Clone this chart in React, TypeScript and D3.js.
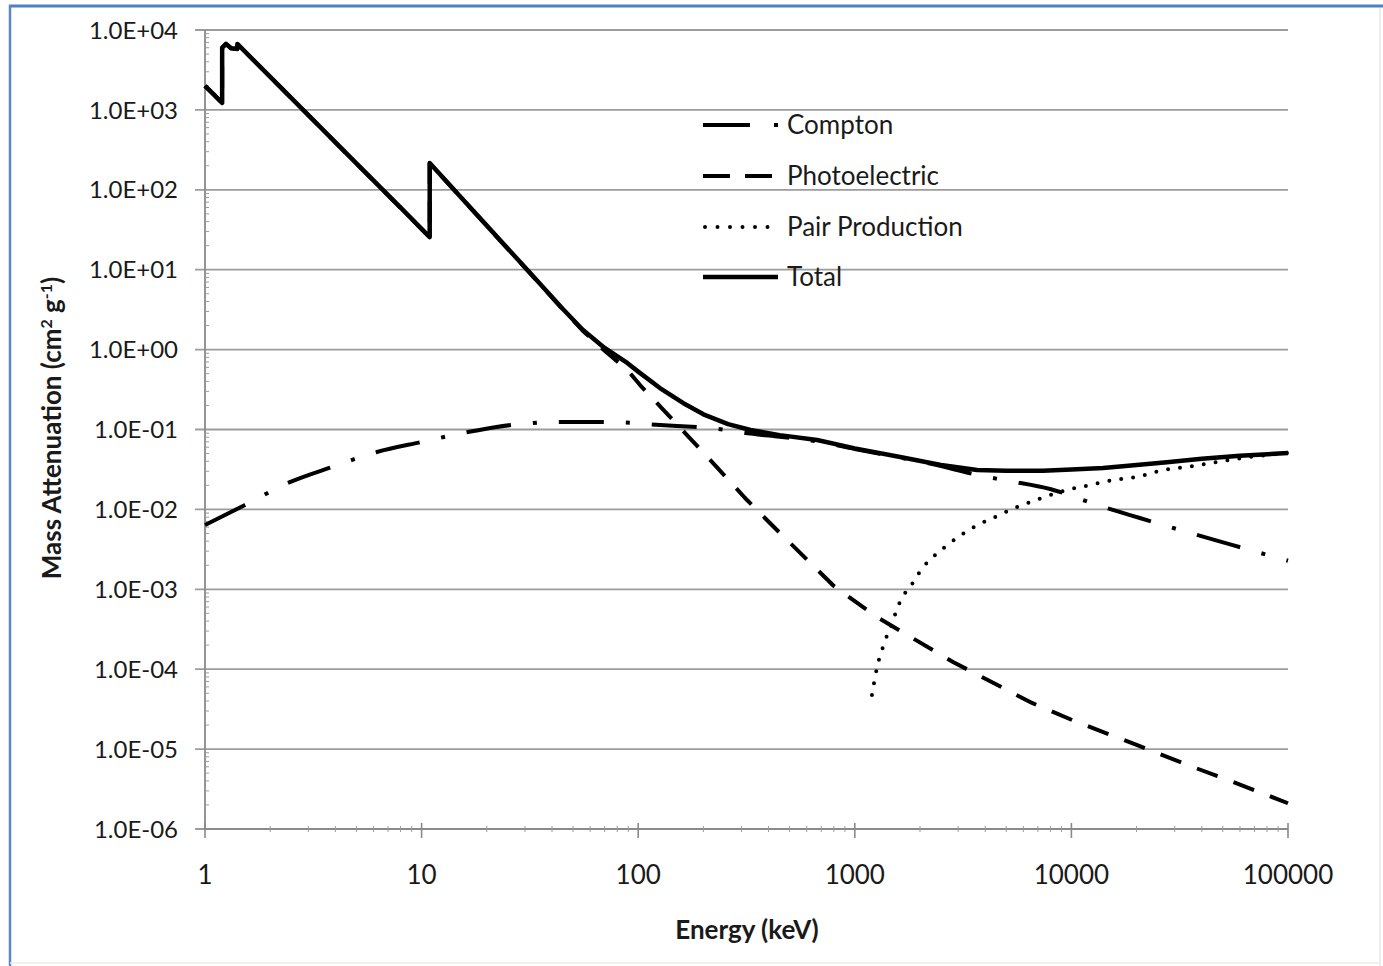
import React from "react";
import * as d3 from "d3";

// Mass attenuation coefficients (cm^2/g) versus photon energy (keV)
const totalEnergy = [1, 1.1, 1.2, 1.2001, 1.25, 1.32, 1.41, 1.4101, 2, 3, 5, 8, 10.9, 10.9001, 15, 20, 30, 45, 55.6, 70, 89, 100, 126, 161, 200, 260, 330, 450, 670, 1000, 1620, 2500, 3670, 5000, 7400, 10000, 14000, 20000, 27600, 40000, 60000, 100000];
const totalValues = [2000, 1550, 1220, 6000, 6700, 5900, 5800, 6700, 2588, 860, 214, 59.7, 25.6, 216, 83.7, 35.6, 10.7, 3.2, 1.76, 1.05, 0.68, 0.53, 0.33, 0.215, 0.155, 0.117, 0.0986, 0.085, 0.074, 0.058, 0.0453, 0.036, 0.0311, 0.0305, 0.0305, 0.0315, 0.033, 0.036, 0.039, 0.043, 0.047, 0.0508];

const photoEnergy = [1, 1.2, 1.2001, 1.25, 1.32, 1.41, 1.4101, 2, 3, 5, 8, 10.9, 10.9001, 15, 20, 30, 45, 55.6, 70, 89, 102, 130, 168, 230, 318, 437, 800, 1265, 2840, 6580, 10070, 20000, 36400, 60000, 100000];
const photoValues = [1995, 1215, 5990, 6690, 5890, 5790, 6690, 2580, 858, 213, 59.4, 25.5, 215, 83.3, 35.4, 10.6, 3.16, 1.71, 0.97, 0.56, 0.36, 0.179, 0.0853, 0.034, 0.0131, 0.00552, 0.0011, 0.00045, 0.000123, 0.0000378, 0.0000231, 0.0000113, 0.00000597, 0.0000036, 0.0000021];

const comptonEnergy = [1, 1.53, 2.41, 3.86, 6.22, 10, 16.4, 21.8, 45, 72.5, 126, 257, 330, 450, 670, 1000, 1620, 2500, 3670, 5000, 7970, 13100, 20700, 34200, 55100, 89900, 100000];
const comptonValues = [0.00638, 0.01135, 0.0214, 0.034, 0.0523, 0.0698, 0.0931, 0.107, 0.124, 0.124, 0.114, 0.0986, 0.089, 0.081, 0.071, 0.057, 0.0443, 0.035, 0.027, 0.023, 0.018, 0.0114, 0.0078, 0.0052, 0.0036, 0.00247, 0.00228];

const pairEnergy = [1200, 1265, 1350, 1490, 1650, 1800, 2070, 2300, 2750, 3480, 4440, 5610, 7310, 9550, 12200, 15600, 20100, 26500, 34200, 47000, 66800, 100000];
const pairValues = [0.0000475, 0.000104, 0.00019, 0.00039, 0.00078, 0.00107, 0.0019, 0.00254, 0.00379, 0.00585, 0.00803, 0.0107, 0.0139, 0.0175, 0.0202, 0.0233, 0.0255, 0.0311, 0.034, 0.0392, 0.0453, 0.0508];

const xTickValues = [1, 10, 100, 1000, 10000, 100000];
const yTickValues = [1e-6, 1e-5, 1e-4, 1e-3, 1e-2, 1e-1, 1, 10, 100, 1000, 10000];
const yTickLabels = ["1.0E-06", "1.0E-05", "1.0E-04", "1.0E-03", "1.0E-02", "1.0E-01", "1.0E+00", "1.0E+01", "1.0E+02", "1.0E+03", "1.0E+04"];

const legendNames = ["Compton", "Photoelectric", "Pair Production", "Total"];

const W = 1383;
const H = 966;
const left = 205, right = 1288, top = 30, bottom = 829;
const FONT = "Lato, 'Open Sans', sans-serif";
const INK = "#1a1a1a";

type Pt = [number, number];
const zip = (a: number[], b: number[]): Pt[] => a.map((v, i) => [v, b[i]]);

const styles: Record<string, { dash?: string; width: number; cap?: string }> = {
  Compton: { dash: "45,22,4,22", width: 4 },
  Photoelectric: { dash: "22,17", width: 4 },
  "Pair Production": { dash: "0,12", width: 4, cap: "round" },
  Total: { width: 4.5 },
};

export default function App() {
  const x = d3.scaleLog().domain([1, 100000]).range([left, right]);
  const y = d3.scaleLog().domain([1e-6, 1e4]).range([bottom, top]);

  const line = d3
    .line<Pt>()
    .x((d) => x(d[0]))
    .y((d) => y(d[1]));
  const smooth = d3
    .line<Pt>()
    .x((d) => x(d[0]))
    .y((d) => y(d[1]))
    .curve(d3.curveMonotoneX);

  const series = [
    { name: "Compton", path: smooth(zip(comptonEnergy, comptonValues)) },
    { name: "Photoelectric", path: line(zip(photoEnergy, photoValues)) },
    { name: "Pair Production", path: smooth(zip(pairEnergy, pairValues)) },
    { name: "Total", path: line(zip(totalEnergy, totalValues)) },
  ];

  // minor ticks for each decade
  const xMinor: number[] = [];
  for (let p = 0; p < 5; p++) for (let k = 2; k < 10; k++) xMinor.push(k * Math.pow(10, p));
  const yMinor: number[] = [];
  for (let p = -6; p < 4; p++) for (let k = 2; k < 10; k++) yMinor.push(k * Math.pow(10, p));

  const legendX = 703;
  const legendY = [125, 176, 227, 277];

  return (
    <svg width={W} height={H} style={{ position: "absolute", left: 0, top: 0, background: "#fff" }}>
      <rect x={0} y={0} width={W} height={H} fill="#ffffff" />
      {/* frame */}
      <line x1={9} y1={6} x2={W} y2={6} stroke="#4f7fc4" strokeWidth={3} />
      <line x1={10} y1={5} x2={10} y2={H} stroke="#5b86c6" strokeWidth={2.5} />
      <line x1={1380} y1={8} x2={1380} y2={H} stroke="#e6e6e6" strokeWidth={1.5} />
      <line x1={10} y1={963} x2={1380} y2={963} stroke="#efece4" strokeWidth={1.5} />

      {/* horizontal gridlines */}
      {yTickValues.map((v) => (
        <line key={v} x1={left - 10} x2={right} y1={y(v)} y2={y(v)} stroke="#9c9c9c" strokeWidth={1.8} />
      ))}
      {/* axes */}
      <line x1={left} x2={left} y1={top} y2={bottom} stroke="#8a8a8a" strokeWidth={1.8} />
      <line x1={left} x2={right} y1={bottom} y2={bottom} stroke="#8a8a8a" strokeWidth={1.8} />
      {yMinor.map((v) => (
        <line key={"ym" + v} x1={left} x2={left + 4} y1={y(v)} y2={y(v)} stroke="#9a9a9a" strokeWidth={1} />
      ))}
      {xMinor.map((v) => (
        <line key={"xm" + v} x1={x(v)} x2={x(v)} y1={bottom - 3} y2={bottom + 3} stroke="#9a9a9a" strokeWidth={1} />
      ))}
      {xTickValues.map((v) => (
        <line key={"xt" + v} x1={x(v)} x2={x(v)} y1={bottom - 6} y2={bottom + 9} stroke="#8a8a8a" strokeWidth={1.6} />
      ))}

      {/* tick labels */}
      {yTickValues.map((v, i) => (
        <text key={"yl" + v} x={178} y={y(v)} dy="0.36em" textAnchor="end" fontFamily={FONT} fontSize={24} fill={INK}>
          {yTickLabels[i]}
        </text>
      ))}
      {xTickValues.map((v) => (
        <text key={"xl" + v} x={x(v)} y={884} textAnchor="middle" fontFamily={FONT} fontSize={26} fill={INK}>
          {d3.format("d")(v)}
        </text>
      ))}

      {/* axis titles */}
      <text x={747} y={939} textAnchor="middle" fontFamily={FONT} fontWeight="bold" fontSize={26} fill={INK}>
        Energy (keV)
      </text>
      <text
        transform="translate(61,428) rotate(-90)"
        textAnchor="middle"
        fontFamily={FONT}
        fontWeight="bold"
        fontSize={26}
        fill={INK}
      >
        Mass Attenuation (cm
        <tspan dy={-9} fontSize={16}>2</tspan>
        <tspan dy={9}> g</tspan>
        <tspan dy={-9} fontSize={16}>-1</tspan>
        <tspan dy={9}>)</tspan>
      </text>

      {/* data series */}
      {series.map((s) => {
        const st = styles[s.name];
        return (
          <path
            key={s.name}
            d={s.path || ""}
            fill="none"
            stroke="#000"
            strokeWidth={st.width}
            strokeDasharray={st.dash}
            strokeLinecap={(st.cap as any) || "butt"}
            strokeLinejoin="round"
          />
        );
      })}

      {/* legend */}
      {legendNames.map((name, i) => {
        const st = styles[name];
        const ly = legendY[i];
        const sample =
          name === "Compton" ? (
            <g>
              <line x1={legendX} x2={legendX + 47} y1={ly} y2={ly} stroke="#000" strokeWidth={4} />
              <line x1={legendX + 71} x2={legendX + 75} y1={ly} y2={ly} stroke="#000" strokeWidth={4} />
            </g>
          ) : name === "Photoelectric" ? (
            <line x1={legendX} x2={legendX + 70} y1={ly} y2={ly} stroke="#000" strokeWidth={4} strokeDasharray="27,15" />
          ) : name === "Pair Production" ? (
            <line x1={legendX + 2} x2={legendX + 70} y1={ly} y2={ly} stroke="#000" strokeWidth={4} strokeDasharray="0,12.5" strokeLinecap="round" />
          ) : (
            <line x1={legendX} x2={legendX + 75} y1={ly} y2={ly} stroke="#000" strokeWidth={st.width} />
          );
        return (
          <g key={name}>
            {sample}
            <text x={787} y={ly} dy="0.36em" fontFamily={FONT} fontSize={26} fill={INK}>
              {name}
            </text>
          </g>
        );
      })}
    </svg>
  );
}
